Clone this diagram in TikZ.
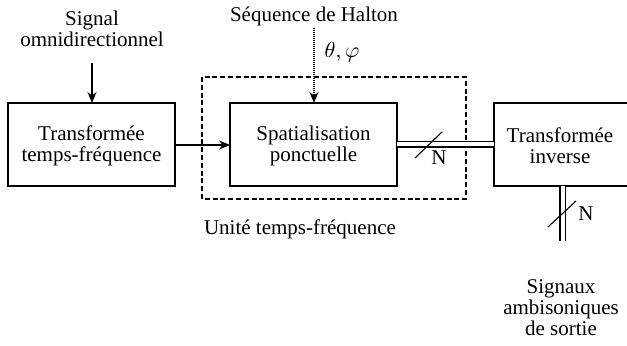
\documentclass[tikz,border=0pt]{standalone}
\usepackage{fontspec}
\setmainfont{Liberation Serif}
\usetikzlibrary{arrows.meta}
\begin{document}
\begin{tikzpicture}[x=0.5pt,y=-0.5pt,
  font=\fontsize{10.5}{10.5}\selectfont,
  blockbox/.style={draw,line width=0.6pt},
  lbl/.style={align=center,inner sep=0pt},
  arr/.style={line width=0.6pt,-{Stealth[length=5.5pt,width=4.5pt]}},
  bus/.style={double,double distance=2pt,line width=0.65pt},
  slash/.style={line width=0.55pt}]
\useasboundingbox (0,0) rectangle (627,346);
% processing blocks
\draw[blockbox] (8,103) rectangle (175,186);
\node[lbl] (tf) at (91.5,146) {Transformée\\temps-fréquence};
\coordinate (tfE) at (175,145);
\coordinate (tfN) at (92,103);
\draw[blockbox] (230,103) rectangle (397,186);
\node[lbl] (sp) at (313.5,146) {Spatialisation\\ponctuelle};
\coordinate (spW) at (230,145);
\coordinate (spE) at (397,144.5);
\coordinate (spN) at (314,103);
\draw[blockbox] (494,103) rectangle (640,186);
\node[lbl] (ti) at (560,146) {Transformée\\inverse};
\coordinate (tiW) at (494,144.5);
\coordinate (tiS) at (562.5,186);
% time-frequency unit frame
\draw[line width=0.6pt,dash pattern=on 2.5pt off 1.4pt] (202,77) rectangle (466,199);
\node[lbl] (unit) at (300,229) {Unité temps-fréquence};
% inputs
\node[lbl] (sig) at (92,29) {Signal\\omnidirectionnel};
\coordinate (sigS) at (92,63);
\draw[arr] (sigS) -- (tfN);
\node[lbl] (hal) at (314,16) {Séquence de Halton};
\coordinate (halS) at (314,28);
\draw[arr,dash pattern=on 0.4pt off 0.6pt] (halS) -- (spN);
\node[lbl] (ang) at (342,52) {$\theta,\varphi$};
% links
\draw[arr] (tfE) -- (spW);
\draw[bus] (spE) -- (tiW);
\coordinate (s1a) at (415,158);
\coordinate (s1b) at (442,132);
\draw[slash] (s1a) -- (s1b);
\node[lbl] (n1) at (439,158) {N};
\coordinate (outE) at (562.5,241);
\draw[bus] (tiS) -- (outE);
\coordinate (s2a) at (548,227);
\coordinate (s2b) at (576,201);
\draw[slash] (s2a) -- (s2b);
\node[lbl] (n2) at (586,214) {N};
\node[lbl] (out) at (561,308) {Signaux\\ambisoniques\\de sortie};
\end{tikzpicture}
\end{document}
